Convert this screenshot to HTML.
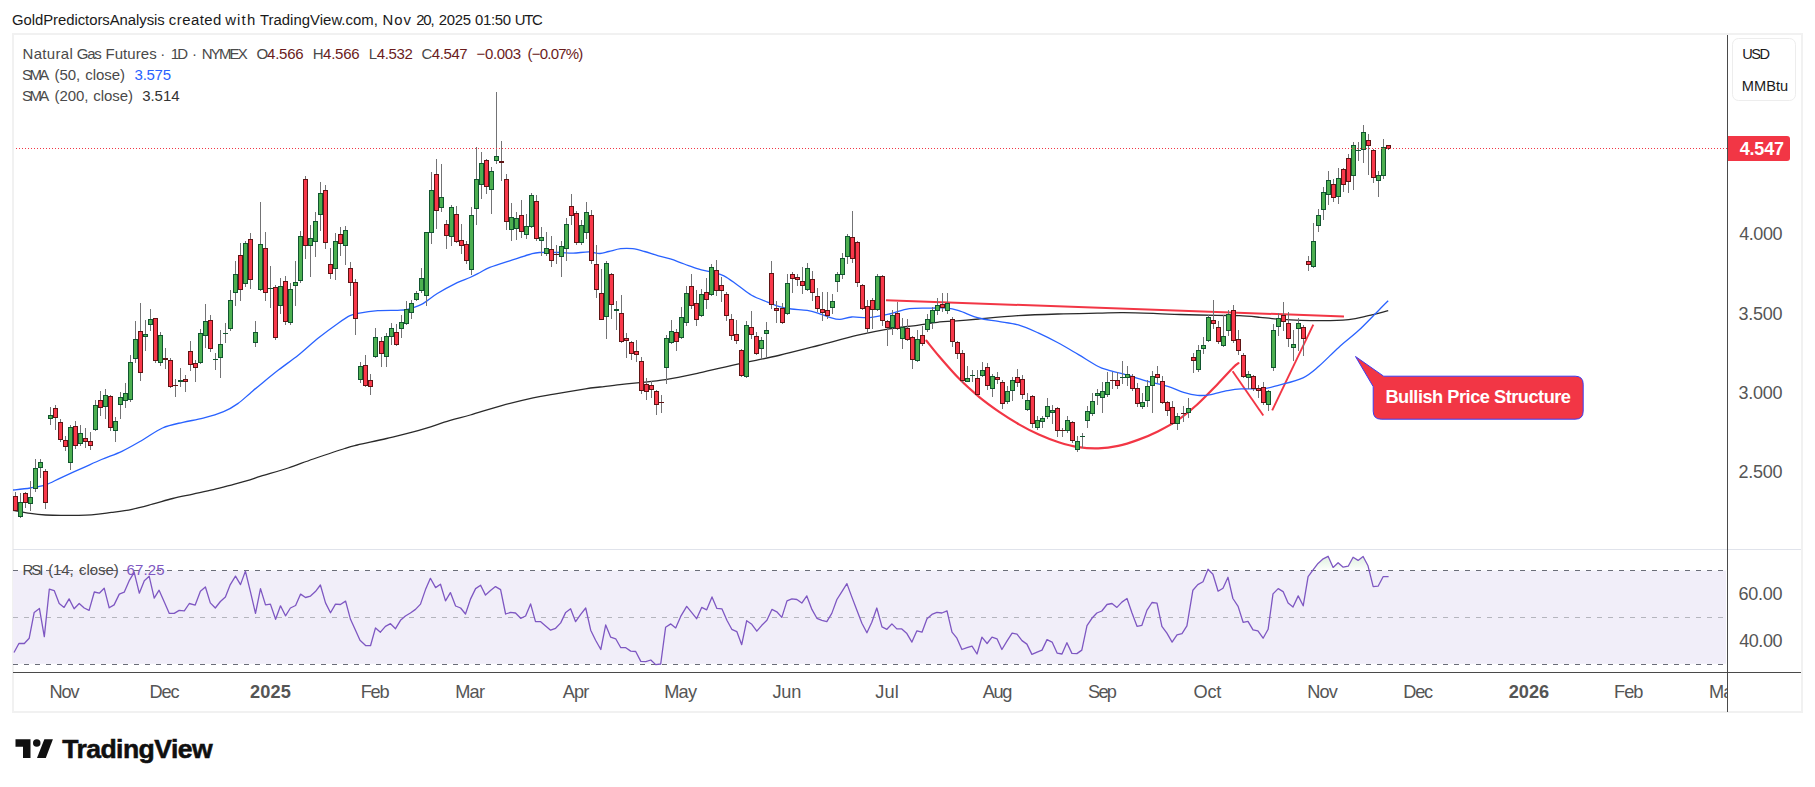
<!DOCTYPE html>
<html><head><meta charset="utf-8"><title>Natural Gas Futures chart</title>
<style>
html,body{margin:0;padding:0;background:#fff}
#root{position:relative;width:1815px;height:787px;overflow:hidden;background:#fff;font-family:"Liberation Sans",sans-serif}
.frame{position:absolute;left:12px;top:33px;width:1787px;height:676px;border:2px solid #f1f1f1}
.unit{position:absolute;left:1731.5px;top:38.3px;width:64.6px;height:62.8px;border:1.3px solid #ededed;border-radius:6.5px;box-sizing:border-box}
.t{position:absolute;white-space:nowrap;line-height:0;display:block;height:0}
.t::before{content:"";display:inline-block;height:0}
.c{transform:translateX(-50%)}
</style></head><body><div id="root">
<div class="frame"></div>
<svg width="1815" height="787" viewBox="0 0 1815 787" style="position:absolute;left:0;top:0">
<rect x="13" y="570.6" width="1713" height="93.2" fill="#f1eef9"/>
<defs><clipPath id="ob"><rect x="1300" y="550" width="100" height="20.5"/></clipPath><linearGradient id="obg" gradientUnits="userSpaceOnUse" x1="0" y1="549" x2="0" y2="571"><stop offset="0" stop-color="#4caf50" stop-opacity="0.28"/><stop offset="1" stop-color="#4caf50" stop-opacity="0.0"/></linearGradient></defs>
<path d="M1303.2,605.8 L1308.1,576.7 L1313.1,569.8 L1318.0,563.4 L1323.2,558.8 L1328.1,556.3 L1333.1,567.4 L1338.1,562.8 L1343.2,567.2 L1348.2,566.2 L1353.1,557.3 L1358.1,560.4 L1363.1,556.5 L1368.0,565.8 L1373.2,586.6 L1378.1,586.2 L1383.1,576.7 L1388.6,576.7 L1388.6,571 L1303.2,571 Z" fill="url(#obg)" clip-path="url(#ob)"/>
<rect x="13" y="549" width="1788" height="1" fill="#e0e3eb"/>
<g shape-rendering="crispEdges">
<line x1="13" y1="570.5" x2="1726" y2="570.5" stroke="#6a6d78" stroke-width="1" stroke-dasharray="5 6" stroke-dashoffset="0"/>
<line x1="13" y1="617.5" x2="1726" y2="617.5" stroke="#b4b5bd" stroke-width="1" stroke-dasharray="5 6" stroke-dashoffset="0"/>
<line x1="13" y1="664.5" x2="1726" y2="664.5" stroke="#6a6d78" stroke-width="1" stroke-dasharray="5 6" stroke-dashoffset="0"/>
</g>
<path d="M14.0,652.5 L18.9,643.5 L24.3,643.5 L29.2,638.2 L34.2,612.4 L39.4,608.4 L44.3,636.6 L49.3,589.2 L54.2,590.6 L59.2,603.5 L64.1,607.4 L69.1,598.9 L74.1,608.8 L79.2,603.5 L84.2,608.0 L89.1,610.4 L94.3,592.0 L99.3,593.2 L104.2,588.2 L109.2,607.8 L114.1,604.9 L119.3,594.1 L124.2,592.2 L129.2,580.7 L134.2,572.3 L139.3,593.2 L144.3,580.7 L149.2,576.3 L154.2,598.1 L159.1,590.2 L164.3,601.9 L169.3,613.4 L174.2,613.4 L179.2,610.4 L184.3,610.8 L189.3,603.5 L195.2,605.1 L200.4,591.2 L205.4,587.0 L210.3,602.9 L215.3,608.0 L220.4,601.5 L225.4,596.9 L230.3,584.6 L235.5,576.1 L240.5,584.6 L245.4,571.1 L250.4,591.6 L255.5,613.4 L260.5,588.6 L265.5,604.9 L270.4,604.1 L275.6,619.3 L280.5,605.8 L285.5,615.8 L290.4,608.0 L295.6,605.5 L300.6,594.1 L305.5,597.5 L310.5,596.1 L315.4,591.6 L320.4,585.0 L325.5,602.9 L330.5,612.8 L335.5,604.1 L340.4,604.5 L345.6,601.1 L350.5,619.3 L355.5,630.2 L360.0,640.2 L365.6,645.5 L370.5,645.7 L375.5,627.9 L380.4,632.2 L385.4,626.3 L390.5,623.7 L395.5,628.7 L400.5,620.3 L405.4,616.0 L410.4,613.0 L415.5,609.4 L420.5,604.1 L425.5,589.6 L430.4,578.3 L435.6,587.6 L440.5,584.2 L445.5,600.9 L450.4,592.6 L455.6,606.0 L460.6,608.0 L465.5,614.0 L470.5,599.1 L475.6,588.6 L480.6,585.2 L485.5,595.1 L490.5,590.6 L495.5,586.6 L500.6,589.6 L505.6,614.0 L510.5,612.4 L515.5,613.0 L520.7,618.3 L525.6,616.0 L530.6,603.9 L535.5,621.7 L540.7,621.7 L545.6,625.9 L550.6,630.2 L555.6,628.3 L560.7,622.9 L565.7,612.4 L570.6,608.8 L575.6,621.7 L580.7,614.4 L585.7,608.0 L590.7,630.2 L595.6,640.2 L600.8,649.5 L605.7,624.9 L610.7,637.2 L615.7,638.8 L620.8,647.7 L625.8,647.7 L630.7,651.1 L635.7,651.5 L640.8,661.4 L645.8,661.6 L650.8,660.0 L655.7,664.6 L660.7,664.0 L665.6,627.3 L670.8,623.9 L675.7,627.9 L680.7,616.4 L686.7,606.4 L691.6,612.4 L696.6,618.7 L701.7,607.4 L706.7,609.8 L712.0,596.9 L716.9,608.4 L721.9,608.8 L726.9,620.3 L731.8,629.3 L736.8,631.6 L741.7,644.7 L746.7,620.7 L751.8,624.3 L756.8,631.2 L761.8,625.3 L766.9,620.3 L771.9,609.4 L776.8,611.8 L781.8,617.4 L787.0,600.9 L791.9,598.9 L796.9,599.5 L801.8,603.1 L806.8,595.9 L811.9,609.4 L816.9,618.3 L821.9,620.3 L826.8,621.7 L831.8,613.4 L836.9,599.5 L841.9,591.6 L846.9,583.6 L851.8,596.9 L857.0,610.4 L861.9,623.3 L866.9,632.8 L871.8,622.3 L876.8,608.0 L882.0,626.9 L886.9,629.3 L891.9,623.9 L896.8,628.9 L901.8,628.9 L906.9,633.6 L911.9,642.1 L916.9,630.8 L922.0,632.2 L927.0,618.7 L931.9,614.4 L936.9,612.4 L941.9,613.0 L947.0,610.8 L952.0,632.2 L956.9,638.2 L961.9,649.5 L967.0,647.7 L972.0,646.1 L977.0,654.0 L981.9,637.2 L987.1,643.5 L992.0,637.2 L997.0,638.8 L1001.9,649.5 L1007.1,640.8 L1012.1,633.2 L1017.0,634.2 L1022.0,640.6 L1026.9,644.1 L1031.9,654.4 L1037.1,652.1 L1042.0,650.1 L1047.0,639.6 L1052.1,642.1 L1057.1,653.1 L1062.0,654.0 L1066.9,642.7 L1071.9,653.4 L1076.9,653.6 L1081.8,650.1 L1087.0,625.7 L1091.9,618.3 L1096.9,613.0 L1101.8,611.0 L1107.0,604.5 L1112.0,603.5 L1116.9,607.4 L1121.9,602.1 L1127.0,598.5 L1132.0,613.0 L1137.0,626.3 L1141.9,625.3 L1146.9,610.4 L1152.0,602.5 L1157.0,603.1 L1161.9,626.3 L1166.9,633.2 L1172.1,642.1 L1177.0,634.8 L1182.0,633.6 L1186.9,625.9 L1192.9,590.2 L1197.8,584.6 L1203.0,581.7 L1208.0,569.2 L1212.9,574.3 L1218.1,591.2 L1223.0,588.2 L1228.0,577.3 L1232.9,598.5 L1238.1,606.4 L1243.1,622.3 L1248.0,621.3 L1253.0,629.8 L1257.9,630.8 L1263.1,638.2 L1268.1,629.3 L1273.0,593.9 L1278.2,588.6 L1283.1,591.6 L1288.1,603.1 L1293.0,607.0 L1298.2,595.9 L1303.2,605.8 L1308.1,576.7 L1313.1,569.8 L1318.0,563.4 L1323.2,558.8 L1328.1,556.3 L1333.1,567.4 L1338.1,562.8 L1343.2,567.2 L1348.2,566.2 L1353.1,557.3 L1358.1,560.4 L1363.1,556.5 L1368.0,565.8 L1373.2,586.6 L1378.1,586.2 L1383.1,576.7 L1388.6,576.7" fill="none" stroke="#7e57c2" stroke-width="1.3" stroke-linejoin="round"/>
<line x1="886" y1="300.2" x2="1344" y2="316.5" stroke="#f23645" stroke-width="2"/>
<path d="M926.4,340.7 C928.6,343.4 934.2,350.6 939.7,357.0 C945.2,363.4 952.9,372.4 959.5,379.1 C966.1,385.8 972.7,391.6 979.3,397.1 C985.9,402.6 992.6,407.3 999.2,411.9 C1005.8,416.4 1012.4,420.6 1019.0,424.4 C1025.6,428.2 1032.2,431.6 1038.8,434.6 C1045.4,437.6 1052.1,440.2 1058.7,442.3 C1065.3,444.4 1071.9,446.2 1078.5,447.2 C1085.1,448.2 1091.7,448.6 1098.3,448.4 C1104.9,448.2 1111.6,447.3 1118.2,445.9 C1124.8,444.5 1131.4,442.3 1138.0,439.9 C1144.6,437.5 1151.2,434.7 1157.8,431.4 C1164.4,428.1 1171.1,424.6 1177.7,420.1 C1184.3,415.6 1190.9,410.1 1197.5,404.2 C1204.1,398.2 1211.3,390.5 1217.3,384.4 C1223.2,378.3 1229.7,371.0 1233.2,367.5 C1236.7,364.0 1237.5,363.9 1238.4,363.2" fill="none" stroke="#f23645" stroke-width="2.2" stroke-linecap="round"/>
<line x1="1232.6" y1="371.2" x2="1263.3" y2="415.5" stroke="#f23645" stroke-width="1.9"/>
<line x1="1272.2" y1="410.3" x2="1313.3" y2="324.6" stroke="#f23645" stroke-width="1.9"/>
<path d="M13.0,510.3 C15.9,510.8 24.9,512.6 30.3,513.4 C35.7,514.2 40.5,514.7 45.6,515.0 C50.7,515.3 53.2,515.4 60.8,515.4 C68.4,515.4 82.9,515.3 91.4,514.8 C99.9,514.3 104.9,513.3 111.7,512.4 C118.5,511.5 125.2,510.7 132.0,509.3 C138.8,507.9 145.6,506.0 152.4,504.2 C159.2,502.4 165.9,500.2 172.7,498.5 C179.5,496.8 186.2,495.6 193.0,494.1 C199.8,492.6 206.6,491.2 213.4,489.6 C220.2,488.0 227.6,485.9 233.7,484.3 C239.8,482.7 245.5,481.2 250.0,479.8 C254.5,478.4 254.5,478.2 260.9,476.2 C267.3,474.2 279.5,470.9 288.2,468.0 C296.9,465.1 303.9,462.2 313.3,459.0 C322.7,455.8 337.4,450.8 344.7,448.5 C352.0,446.2 350.3,446.7 357.3,445.0 C364.3,443.3 376.5,440.9 386.6,438.5 C396.7,436.1 407.5,433.7 418.0,430.7 C428.5,427.7 440.7,423.3 449.4,420.7 C458.1,418.1 461.6,417.5 470.3,415.0 C479.0,412.5 491.2,408.5 501.7,405.6 C512.2,402.7 524.4,399.7 533.1,397.8 C541.8,395.9 545.4,395.6 554.1,394.1 C562.8,392.6 577.9,390.0 585.5,388.8 C593.1,387.6 594.2,387.7 600.0,387.0 C605.8,386.3 613.4,385.3 620.0,384.6 C626.6,383.9 632.1,383.4 639.7,382.6 C647.3,381.8 655.6,381.2 665.5,379.6 C675.4,378.0 687.0,375.5 699.2,372.9 C711.4,370.3 725.6,366.7 738.8,363.8 C752.0,360.9 765.3,358.6 778.5,355.5 C791.7,352.4 805.0,348.9 818.2,345.5 C831.4,342.1 846.2,337.9 857.8,335.2 C869.4,332.5 877.7,330.8 887.6,329.1 C897.5,327.5 909.0,326.4 917.3,325.3 C925.6,324.2 930.1,323.1 937.2,322.3 C944.3,321.5 953.1,321.2 960.0,320.7 C966.9,320.1 969.0,319.9 978.7,319.0 C988.4,318.1 1005.1,316.4 1018.3,315.6 C1031.5,314.8 1044.8,314.4 1058.0,314.0 C1071.2,313.6 1086.8,313.4 1097.7,313.2 C1108.6,313.0 1113.6,312.6 1123.5,312.7 C1133.4,312.8 1147.8,313.3 1157.2,313.6 C1166.6,313.9 1170.0,314.2 1180.0,314.5 C1190.0,314.8 1207.4,315.2 1217.3,315.4 C1227.2,315.6 1232.4,315.4 1239.5,315.7 C1246.6,316.0 1253.4,316.7 1260.0,317.3 C1266.6,317.9 1269.4,318.5 1279.2,319.1 C1289.0,319.7 1307.2,320.6 1318.8,320.7 C1330.4,320.8 1340.3,320.5 1348.6,319.7 C1356.9,318.9 1361.8,317.2 1368.4,315.7 C1375.0,314.2 1384.9,311.5 1388.2,310.7" fill="none" stroke="#2a2a2a" stroke-width="1.3"/>
<path d="M13.0,490.0 C15.9,489.7 24.9,488.9 30.3,488.0 C35.7,487.1 40.5,486.6 45.6,484.9 C50.7,483.2 54.9,480.5 60.8,477.8 C66.7,475.1 74.4,471.7 81.2,468.6 C88.0,465.6 94.7,462.4 101.5,459.5 C108.3,456.6 115.1,454.5 121.9,451.3 C128.7,448.1 135.4,444.1 142.2,440.2 C149.0,436.3 155.7,431.0 162.5,428.0 C169.3,425.0 176.1,423.9 182.9,422.3 C189.7,420.7 196.4,420.0 203.2,418.2 C210.0,416.4 217.8,414.1 223.6,411.7 C229.4,409.3 233.4,406.7 237.8,403.6 C242.2,400.6 246.5,396.3 250.0,393.4 C253.5,390.4 254.0,389.8 258.8,385.9 C263.6,382.0 272.1,374.9 278.7,369.8 C285.3,364.7 291.9,360.3 298.5,355.0 C305.1,349.7 311.7,343.4 318.3,338.1 C324.9,332.8 332.9,326.9 338.2,323.2 C343.5,319.5 346.7,317.3 350.0,315.7 C353.3,314.1 353.4,314.1 358.0,313.3 C362.6,312.5 371.2,311.2 377.8,310.7 C384.4,310.2 392.7,310.5 397.7,310.3 C402.7,310.1 403.6,310.3 407.6,309.3 C411.6,308.3 416.6,307.0 421.5,304.4 C426.4,301.8 431.4,297.1 437.3,293.5 C443.2,289.9 451.8,285.3 457.2,282.6 C462.6,279.9 466.2,279.2 470.0,277.5 C473.8,275.8 476.7,274.2 480.0,272.5 C483.3,270.8 484.9,269.3 489.8,267.4 C494.8,265.4 503.1,262.9 509.7,260.8 C516.3,258.7 524.5,255.9 529.5,254.5 C534.5,253.1 534.4,252.8 539.4,252.5 C544.4,252.2 553.6,252.4 559.2,252.5 C564.8,252.6 568.1,253.2 573.1,253.1 C578.1,253.0 584.5,251.8 589.0,251.9 C593.5,252.0 596.6,253.6 599.9,253.5 C603.2,253.4 605.3,252.3 608.8,251.5 C612.3,250.7 616.7,249.2 620.7,248.7 C624.7,248.2 628.6,248.2 632.6,248.7 C636.6,249.2 640.2,250.3 644.5,251.5 C648.8,252.7 654.1,254.7 658.4,255.9 C662.7,257.1 666.0,257.5 670.3,258.9 C674.6,260.2 679.6,262.4 684.2,264.0 C688.8,265.6 693.5,267.4 698.1,268.8 C702.7,270.2 707.7,271.1 712.0,272.3 C716.3,273.5 719.6,273.8 723.9,275.9 C728.2,278.0 733.1,282.0 737.7,285.2 C742.3,288.4 746.6,292.4 751.6,295.2 C756.6,298.0 762.9,300.2 767.5,302.1 C772.1,304.0 775.4,305.6 779.4,306.7 C783.4,307.8 786.7,308.4 791.3,309.0 C795.9,309.6 802.6,309.6 807.2,310.4 C811.8,311.2 815.3,312.4 819.1,313.6 C822.9,314.8 826.5,316.4 829.9,317.4 C833.3,318.4 836.2,319.5 839.8,319.4 C843.4,319.3 846.7,317.3 851.7,317.0 C856.7,316.7 863.3,318.1 869.6,317.6 C875.9,317.1 882.8,315.5 889.4,314.0 C896.0,312.5 902.3,309.7 909.3,308.7 C916.2,307.7 924.8,308.2 931.1,308.1 C937.4,308.0 942.3,307.7 946.9,308.1 C951.5,308.5 953.5,309.1 958.8,310.7 C964.1,312.3 972.1,316.2 978.7,318.0 C985.3,319.8 991.9,320.2 998.5,321.4 C1005.1,322.5 1011.7,323.0 1018.3,324.9 C1024.9,326.8 1031.6,329.9 1038.2,332.9 C1044.8,335.9 1051.3,339.2 1058.0,342.8 C1064.7,346.4 1071.8,350.7 1078.5,354.6 C1085.2,358.6 1093.3,363.9 1098.3,366.5 C1103.3,369.1 1103.3,368.6 1108.3,370.1 C1113.3,371.6 1121.5,373.5 1128.1,375.4 C1134.7,377.3 1141.3,379.6 1147.9,381.4 C1154.5,383.2 1161.8,384.6 1167.8,386.4 C1173.8,388.2 1178.6,390.8 1183.6,392.3 C1188.5,393.8 1193.2,394.9 1197.5,395.3 C1201.8,395.7 1204.4,395.7 1209.4,394.9 C1214.4,394.1 1222.0,391.7 1227.3,390.7 C1232.6,389.7 1235.1,389.2 1241.1,388.9 C1247.1,388.6 1256.9,389.3 1263.3,388.7 C1269.7,388.1 1272.6,386.9 1279.2,385.1 C1285.8,383.3 1296.4,380.9 1303.0,377.8 C1309.6,374.7 1312.8,371.4 1318.8,366.3 C1324.8,361.2 1332.1,353.3 1338.7,347.4 C1345.3,341.4 1351.9,336.7 1358.5,330.6 C1365.1,324.5 1373.3,315.7 1378.3,310.7 C1383.2,305.7 1386.5,302.4 1388.2,300.8" fill="none" stroke="#2962ff" stroke-width="1.3"/>
<g shape-rendering="crispEdges"><g fill="#737375"><rect x="15" y="492" width="1" height="19"/><rect x="20" y="493" width="1" height="25"/><rect x="25" y="492" width="1" height="16"/><rect x="30" y="481" width="1" height="30"/><rect x="35" y="459" width="1" height="33"/><rect x="40" y="459" width="1" height="19"/><rect x="45" y="469" width="1" height="40"/><rect x="50" y="407" width="1" height="18"/><rect x="55" y="405" width="1" height="25"/><rect x="60" y="419" width="1" height="23"/><rect x="65" y="436" width="1" height="15"/><rect x="70" y="425" width="1" height="45"/><rect x="75" y="421" width="1" height="28"/><rect x="80" y="425" width="1" height="21"/><rect x="85" y="428" width="1" height="20"/><rect x="90" y="432" width="1" height="18"/><rect x="95" y="400" width="1" height="31"/><rect x="100" y="391" width="1" height="25"/><rect x="105" y="389" width="1" height="30"/><rect x="110" y="395" width="1" height="36"/><rect x="115" y="417" width="1" height="25"/><rect x="120" y="392" width="1" height="27"/><rect x="125" y="383" width="1" height="25"/><rect x="130" y="355" width="1" height="47"/><rect x="135" y="321" width="1" height="42"/><rect x="140" y="303" width="1" height="78"/><rect x="145" y="320" width="1" height="31"/><rect x="150" y="309" width="1" height="22"/><rect x="155" y="318" width="1" height="45"/><rect x="160" y="332" width="1" height="34"/><rect x="165" y="348" width="1" height="21"/><rect x="170" y="358" width="1" height="30"/><rect x="175" y="379" width="1" height="18"/><rect x="180" y="368" width="1" height="19"/><rect x="185" y="375" width="1" height="17"/><rect x="190" y="341" width="1" height="30"/><rect x="195" y="360" width="1" height="22"/><rect x="200" y="329" width="1" height="35"/><rect x="205" y="304" width="1" height="44"/><rect x="210" y="315" width="1" height="37"/><rect x="215" y="353" width="1" height="17"/><rect x="220" y="330" width="1" height="48"/><rect x="225" y="323" width="1" height="20"/><rect x="230" y="290" width="1" height="41"/><rect x="235" y="261" width="1" height="45"/><rect x="240" y="243" width="1" height="58"/><rect x="245" y="241" width="1" height="46"/><rect x="250" y="233" width="1" height="56"/><rect x="255" y="321" width="1" height="26"/><rect x="260" y="202" width="1" height="89"/><rect x="265" y="232" width="1" height="69"/><rect x="270" y="266" width="1" height="42"/><rect x="275" y="285" width="1" height="55"/><rect x="280" y="278" width="1" height="36"/><rect x="285" y="276" width="1" height="49"/><rect x="290" y="283" width="1" height="42"/><rect x="295" y="261" width="1" height="45"/><rect x="300" y="231" width="1" height="52"/><rect x="305" y="176" width="1" height="83"/><rect x="310" y="225" width="1" height="52"/><rect x="315" y="212" width="1" height="45"/><rect x="320" y="182" width="1" height="49"/><rect x="325" y="185" width="1" height="64"/><rect x="330" y="248" width="1" height="31"/><rect x="335" y="233" width="1" height="47"/><rect x="340" y="227" width="1" height="29"/><rect x="345" y="226" width="1" height="39"/><rect x="350" y="262" width="1" height="34"/><rect x="355" y="279" width="1" height="56"/><rect x="360" y="362" width="1" height="21"/><rect x="365" y="355" width="1" height="32"/><rect x="370" y="374" width="1" height="21"/><rect x="375" y="328" width="1" height="30"/><rect x="381" y="337" width="1" height="30"/><rect x="386" y="333" width="1" height="34"/><rect x="391" y="323" width="1" height="22"/><rect x="396" y="324" width="1" height="22"/><rect x="401" y="315" width="1" height="23"/><rect x="406" y="301" width="1" height="24"/><rect x="411" y="300" width="1" height="19"/><rect x="416" y="291" width="1" height="10"/><rect x="421" y="268" width="1" height="25"/><rect x="426" y="232" width="1" height="74"/><rect x="431" y="172" width="1" height="72"/><rect x="436" y="159" width="1" height="70"/><rect x="441" y="164" width="1" height="48"/><rect x="446" y="220" width="1" height="29"/><rect x="451" y="205" width="1" height="41"/><rect x="456" y="206" width="1" height="37"/><rect x="461" y="224" width="1" height="30"/><rect x="466" y="241" width="1" height="23"/><rect x="471" y="207" width="1" height="68"/><rect x="476" y="147" width="1" height="78"/><rect x="481" y="152" width="1" height="47"/><rect x="486" y="159" width="1" height="35"/><rect x="491" y="167" width="1" height="47"/><rect x="496" y="92" width="1" height="72"/><rect x="501" y="141" width="1" height="40"/><rect x="506" y="174" width="1" height="56"/><rect x="511" y="203" width="1" height="38"/><rect x="516" y="212" width="1" height="28"/><rect x="521" y="200" width="1" height="38"/><rect x="526" y="214" width="1" height="25"/><rect x="531" y="193" width="1" height="35"/><rect x="536" y="195" width="1" height="46"/><rect x="541" y="227" width="1" height="29"/><rect x="546" y="232" width="1" height="24"/><rect x="551" y="236" width="1" height="31"/><rect x="556" y="245" width="1" height="19"/><rect x="561" y="241" width="1" height="36"/><rect x="566" y="218" width="1" height="43"/><rect x="571" y="194" width="1" height="31"/><rect x="576" y="211" width="1" height="34"/><rect x="581" y="220" width="1" height="25"/><rect x="586" y="202" width="1" height="37"/><rect x="591" y="210" width="1" height="54"/><rect x="596" y="245" width="1" height="53"/><rect x="601" y="269" width="1" height="51"/><rect x="606" y="261" width="1" height="78"/><rect x="611" y="273" width="1" height="46"/><rect x="616" y="301" width="1" height="29"/><rect x="621" y="295" width="1" height="48"/><rect x="626" y="333" width="1" height="25"/><rect x="631" y="341" width="1" height="19"/><rect x="636" y="340" width="1" height="22"/><rect x="641" y="357" width="1" height="37"/><rect x="646" y="378" width="1" height="22"/><rect x="651" y="381" width="1" height="17"/><rect x="656" y="390" width="1" height="25"/><rect x="661" y="395" width="1" height="18"/><rect x="666" y="335" width="1" height="49"/><rect x="671" y="320" width="1" height="24"/><rect x="676" y="329" width="1" height="22"/><rect x="681" y="307" width="1" height="32"/><rect x="686" y="286" width="1" height="40"/><rect x="691" y="274" width="1" height="35"/><rect x="696" y="290" width="1" height="36"/><rect x="701" y="289" width="1" height="28"/><rect x="706" y="278" width="1" height="31"/><rect x="711" y="264" width="1" height="32"/><rect x="716" y="260" width="1" height="36"/><rect x="721" y="277" width="1" height="25"/><rect x="726" y="292" width="1" height="29"/><rect x="731" y="314" width="1" height="26"/><rect x="736" y="320" width="1" height="24"/><rect x="741" y="349" width="1" height="28"/><rect x="746" y="321" width="1" height="57"/><rect x="751" y="311" width="1" height="28"/><rect x="756" y="332" width="1" height="23"/><rect x="761" y="337" width="1" height="22"/><rect x="766" y="322" width="1" height="36"/><rect x="771" y="261" width="1" height="48"/><rect x="776" y="301" width="1" height="22"/><rect x="782" y="303" width="1" height="21"/><rect x="787" y="274" width="1" height="41"/><rect x="792" y="272" width="1" height="21"/><rect x="797" y="274" width="1" height="12"/><rect x="802" y="267" width="1" height="27"/><rect x="807" y="263" width="1" height="28"/><rect x="812" y="271" width="1" height="30"/><rect x="817" y="288" width="1" height="24"/><rect x="822" y="292" width="1" height="29"/><rect x="827" y="292" width="1" height="27"/><rect x="832" y="294" width="1" height="20"/><rect x="837" y="272" width="1" height="20"/><rect x="842" y="253" width="1" height="26"/><rect x="847" y="234" width="1" height="30"/><rect x="852" y="211" width="1" height="52"/><rect x="857" y="241" width="1" height="46"/><rect x="862" y="284" width="1" height="26"/><rect x="867" y="300" width="1" height="34"/><rect x="872" y="298" width="1" height="31"/><rect x="877" y="274" width="1" height="37"/><rect x="882" y="275" width="1" height="51"/><rect x="887" y="320" width="1" height="26"/><rect x="892" y="310" width="1" height="25"/><rect x="897" y="302" width="1" height="28"/><rect x="902" y="318" width="1" height="31"/><rect x="907" y="319" width="1" height="22"/><rect x="912" y="336" width="1" height="33"/><rect x="917" y="330" width="1" height="32"/><rect x="922" y="326" width="1" height="20"/><rect x="927" y="314" width="1" height="18"/><rect x="932" y="307" width="1" height="22"/><rect x="937" y="298" width="1" height="17"/><rect x="942" y="293" width="1" height="19"/><rect x="947" y="293" width="1" height="21"/><rect x="952" y="317" width="1" height="30"/><rect x="957" y="341" width="1" height="18"/><rect x="962" y="350" width="1" height="33"/><rect x="967" y="366" width="1" height="16"/><rect x="972" y="370" width="1" height="12"/><rect x="977" y="370" width="1" height="25"/><rect x="982" y="362" width="1" height="15"/><rect x="987" y="363" width="1" height="27"/><rect x="992" y="374" width="1" height="23"/><rect x="997" y="372" width="1" height="12"/><rect x="1002" y="380" width="1" height="29"/><rect x="1007" y="386" width="1" height="18"/><rect x="1012" y="377" width="1" height="24"/><rect x="1017" y="369" width="1" height="18"/><rect x="1022" y="375" width="1" height="24"/><rect x="1027" y="393" width="1" height="18"/><rect x="1032" y="395" width="1" height="33"/><rect x="1037" y="416" width="1" height="14"/><rect x="1042" y="416" width="1" height="12"/><rect x="1047" y="398" width="1" height="21"/><rect x="1052" y="405" width="1" height="19"/><rect x="1057" y="407" width="1" height="30"/><rect x="1062" y="428" width="1" height="9"/><rect x="1067" y="416" width="1" height="17"/><rect x="1072" y="421" width="1" height="22"/><rect x="1077" y="436" width="1" height="16"/><rect x="1082" y="433" width="1" height="15"/><rect x="1087" y="406" width="1" height="22"/><rect x="1092" y="393" width="1" height="23"/><rect x="1097" y="389" width="1" height="16"/><rect x="1102" y="382" width="1" height="31"/><rect x="1107" y="372" width="1" height="25"/><rect x="1112" y="372" width="1" height="17"/><rect x="1117" y="372" width="1" height="17"/><rect x="1122" y="361" width="1" height="23"/><rect x="1127" y="366" width="1" height="20"/><rect x="1132" y="374" width="1" height="17"/><rect x="1137" y="383" width="1" height="24"/><rect x="1142" y="393" width="1" height="16"/><rect x="1147" y="380" width="1" height="27"/><rect x="1152" y="371" width="1" height="42"/><rect x="1157" y="366" width="1" height="17"/><rect x="1162" y="376" width="1" height="28"/><rect x="1167" y="401" width="1" height="15"/><rect x="1172" y="401" width="1" height="24"/><rect x="1177" y="413" width="1" height="17"/><rect x="1183" y="406" width="1" height="16"/><rect x="1188" y="398" width="1" height="20"/><rect x="1193" y="353" width="1" height="20"/><rect x="1198" y="345" width="1" height="27"/><rect x="1203" y="337" width="1" height="17"/><rect x="1208" y="315" width="1" height="27"/><rect x="1213" y="300" width="1" height="29"/><rect x="1218" y="321" width="1" height="23"/><rect x="1223" y="315" width="1" height="32"/><rect x="1228" y="310" width="1" height="26"/><rect x="1233" y="305" width="1" height="38"/><rect x="1238" y="330" width="1" height="25"/><rect x="1243" y="353" width="1" height="25"/><rect x="1248" y="371" width="1" height="18"/><rect x="1253" y="375" width="1" height="16"/><rect x="1258" y="385" width="1" height="13"/><rect x="1263" y="382" width="1" height="23"/><rect x="1268" y="390" width="1" height="21"/><rect x="1273" y="324" width="1" height="47"/><rect x="1278" y="313" width="1" height="23"/><rect x="1283" y="302" width="1" height="29"/><rect x="1288" y="312" width="1" height="35"/><rect x="1293" y="330" width="1" height="31"/><rect x="1298" y="318" width="1" height="33"/><rect x="1303" y="325" width="1" height="31"/><rect x="1308" y="256" width="1" height="15"/><rect x="1313" y="223" width="1" height="45"/><rect x="1318" y="209" width="1" height="23"/><rect x="1323" y="187" width="1" height="33"/><rect x="1328" y="171" width="1" height="34"/><rect x="1333" y="179" width="1" height="23"/><rect x="1338" y="168" width="1" height="36"/><rect x="1343" y="168" width="1" height="24"/><rect x="1348" y="154" width="1" height="39"/><rect x="1353" y="142" width="1" height="48"/><rect x="1358" y="142" width="1" height="19"/><rect x="1363" y="125" width="1" height="38"/><rect x="1368" y="134" width="1" height="41"/><rect x="1373" y="149" width="1" height="34"/><rect x="1378" y="171" width="1" height="26"/><rect x="1383" y="139" width="1" height="40"/><rect x="1388" y="145" width="1" height="5"/></g><rect x="13" y="496" width="5" height="15" fill="#5e1414"/><rect x="14" y="497" width="3" height="13" fill="#f9384a"/><rect x="18" y="502" width="5" height="15" fill="#11552f"/><rect x="19" y="503" width="3" height="13" fill="#4caf50"/><rect x="23" y="493" width="5" height="10" fill="#5e1414"/><rect x="24" y="494" width="3" height="8" fill="#f9384a"/><rect x="28" y="497" width="5" height="7" fill="#11552f"/><rect x="29" y="498" width="3" height="5" fill="#4caf50"/><rect x="33" y="468" width="5" height="21" fill="#11552f"/><rect x="34" y="469" width="3" height="19" fill="#4caf50"/><rect x="38" y="462" width="5" height="6" fill="#11552f"/><rect x="39" y="463" width="3" height="4" fill="#4caf50"/><rect x="43" y="471" width="5" height="32" fill="#5e1414"/><rect x="44" y="472" width="3" height="30" fill="#f9384a"/><rect x="48" y="415" width="5" height="4" fill="#11552f"/><rect x="49" y="416" width="3" height="2" fill="#4caf50"/><rect x="53" y="408" width="5" height="10" fill="#5e1414"/><rect x="54" y="409" width="3" height="8" fill="#f9384a"/><rect x="58" y="422" width="5" height="18" fill="#5e1414"/><rect x="59" y="423" width="3" height="16" fill="#f9384a"/><rect x="63" y="440" width="5" height="7" fill="#5e1414"/><rect x="64" y="441" width="3" height="5" fill="#f9384a"/><rect x="68" y="427" width="5" height="36" fill="#11552f"/><rect x="69" y="428" width="3" height="34" fill="#4caf50"/><rect x="73" y="426" width="5" height="20" fill="#5e1414"/><rect x="74" y="427" width="3" height="18" fill="#f9384a"/><rect x="78" y="433" width="5" height="11" fill="#11552f"/><rect x="79" y="434" width="3" height="9" fill="#4caf50"/><rect x="83" y="438" width="5" height="4" fill="#5e1414"/><rect x="84" y="439" width="3" height="2" fill="#f9384a"/><rect x="88" y="441" width="5" height="5" fill="#5e1414"/><rect x="89" y="442" width="3" height="3" fill="#f9384a"/><rect x="93" y="405" width="5" height="25" fill="#11552f"/><rect x="94" y="406" width="3" height="23" fill="#4caf50"/><rect x="98" y="400" width="5" height="8" fill="#5e1414"/><rect x="99" y="401" width="3" height="6" fill="#f9384a"/><rect x="103" y="395" width="5" height="12" fill="#11552f"/><rect x="104" y="396" width="3" height="10" fill="#4caf50"/><rect x="108" y="396" width="5" height="32" fill="#5e1414"/><rect x="109" y="397" width="3" height="30" fill="#f9384a"/><rect x="113" y="421" width="5" height="10" fill="#11552f"/><rect x="114" y="422" width="3" height="8" fill="#4caf50"/><rect x="118" y="397" width="5" height="8" fill="#11552f"/><rect x="119" y="398" width="3" height="6" fill="#4caf50"/><rect x="123" y="393" width="5" height="8" fill="#11552f"/><rect x="124" y="394" width="3" height="6" fill="#4caf50"/><rect x="128" y="362" width="5" height="38" fill="#11552f"/><rect x="129" y="363" width="3" height="36" fill="#4caf50"/><rect x="133" y="339" width="5" height="20" fill="#11552f"/><rect x="134" y="340" width="3" height="18" fill="#4caf50"/><rect x="138" y="331" width="5" height="42" fill="#5e1414"/><rect x="139" y="332" width="3" height="40" fill="#f9384a"/><rect x="143" y="334" width="5" height="3" fill="#11552f"/><rect x="144" y="335" width="3" height="1" fill="#4caf50"/><rect x="148" y="319" width="5" height="6" fill="#11552f"/><rect x="149" y="320" width="3" height="4" fill="#4caf50"/><rect x="153" y="318" width="5" height="43" fill="#5e1414"/><rect x="154" y="319" width="3" height="41" fill="#f9384a"/><rect x="158" y="335" width="5" height="28" fill="#11552f"/><rect x="159" y="336" width="3" height="26" fill="#4caf50"/><rect x="163" y="358" width="5" height="2" fill="#5e1414"/><rect x="168" y="360" width="5" height="27" fill="#5e1414"/><rect x="169" y="361" width="3" height="25" fill="#f9384a"/><rect x="173" y="385" width="5" height="1" fill="#5e1414"/><rect x="178" y="380" width="5" height="2" fill="#11552f"/><rect x="183" y="379" width="5" height="3" fill="#5e1414"/><rect x="184" y="380" width="3" height="1" fill="#f9384a"/><rect x="188" y="351" width="5" height="14" fill="#5e1414"/><rect x="189" y="352" width="3" height="12" fill="#f9384a"/><rect x="193" y="363" width="5" height="5" fill="#5e1414"/><rect x="194" y="364" width="3" height="3" fill="#f9384a"/><rect x="198" y="333" width="5" height="30" fill="#11552f"/><rect x="199" y="334" width="3" height="28" fill="#4caf50"/><rect x="203" y="321" width="5" height="15" fill="#11552f"/><rect x="204" y="322" width="3" height="13" fill="#4caf50"/><rect x="208" y="320" width="5" height="29" fill="#5e1414"/><rect x="209" y="321" width="3" height="27" fill="#f9384a"/><rect x="213" y="359" width="5" height="1" fill="#11552f"/><rect x="218" y="344" width="5" height="14" fill="#11552f"/><rect x="219" y="345" width="3" height="12" fill="#4caf50"/><rect x="223" y="333" width="5" height="1" fill="#11552f"/><rect x="228" y="300" width="5" height="29" fill="#11552f"/><rect x="229" y="301" width="3" height="27" fill="#4caf50"/><rect x="233" y="274" width="5" height="19" fill="#11552f"/><rect x="234" y="275" width="3" height="17" fill="#4caf50"/><rect x="238" y="255" width="5" height="35" fill="#5e1414"/><rect x="239" y="256" width="3" height="33" fill="#f9384a"/><rect x="243" y="243" width="5" height="41" fill="#11552f"/><rect x="244" y="244" width="3" height="39" fill="#4caf50"/><rect x="248" y="239" width="5" height="41" fill="#5e1414"/><rect x="249" y="240" width="3" height="39" fill="#f9384a"/><rect x="253" y="332" width="5" height="11" fill="#11552f"/><rect x="254" y="333" width="3" height="9" fill="#4caf50"/><rect x="258" y="244" width="5" height="46" fill="#11552f"/><rect x="259" y="245" width="3" height="44" fill="#4caf50"/><rect x="263" y="248" width="5" height="45" fill="#5e1414"/><rect x="264" y="249" width="3" height="43" fill="#f9384a"/><rect x="268" y="288" width="5" height="1" fill="#11552f"/><rect x="273" y="287" width="5" height="51" fill="#5e1414"/><rect x="274" y="288" width="3" height="49" fill="#f9384a"/><rect x="278" y="286" width="5" height="20" fill="#11552f"/><rect x="279" y="287" width="3" height="18" fill="#4caf50"/><rect x="283" y="281" width="5" height="41" fill="#5e1414"/><rect x="284" y="282" width="3" height="39" fill="#f9384a"/><rect x="288" y="289" width="5" height="34" fill="#11552f"/><rect x="289" y="290" width="3" height="32" fill="#4caf50"/><rect x="293" y="282" width="5" height="4" fill="#11552f"/><rect x="294" y="283" width="3" height="2" fill="#4caf50"/><rect x="298" y="236" width="5" height="45" fill="#11552f"/><rect x="299" y="237" width="3" height="43" fill="#4caf50"/><rect x="303" y="179" width="5" height="67" fill="#5e1414"/><rect x="304" y="180" width="3" height="65" fill="#f9384a"/><rect x="308" y="238" width="5" height="8" fill="#11552f"/><rect x="309" y="239" width="3" height="6" fill="#4caf50"/><rect x="313" y="221" width="5" height="21" fill="#11552f"/><rect x="314" y="222" width="3" height="19" fill="#4caf50"/><rect x="318" y="193" width="5" height="22" fill="#11552f"/><rect x="319" y="194" width="3" height="20" fill="#4caf50"/><rect x="323" y="190" width="5" height="53" fill="#5e1414"/><rect x="324" y="191" width="3" height="51" fill="#f9384a"/><rect x="328" y="264" width="5" height="10" fill="#5e1414"/><rect x="329" y="265" width="3" height="8" fill="#f9384a"/><rect x="333" y="241" width="5" height="28" fill="#11552f"/><rect x="334" y="242" width="3" height="26" fill="#4caf50"/><rect x="338" y="234" width="5" height="10" fill="#5e1414"/><rect x="339" y="235" width="3" height="8" fill="#f9384a"/><rect x="343" y="230" width="5" height="16" fill="#11552f"/><rect x="344" y="231" width="3" height="14" fill="#4caf50"/><rect x="348" y="268" width="5" height="15" fill="#5e1414"/><rect x="349" y="269" width="3" height="13" fill="#f9384a"/><rect x="353" y="282" width="5" height="37" fill="#5e1414"/><rect x="354" y="283" width="3" height="35" fill="#f9384a"/><rect x="358" y="366" width="5" height="14" fill="#11552f"/><rect x="359" y="367" width="3" height="12" fill="#4caf50"/><rect x="363" y="365" width="5" height="21" fill="#5e1414"/><rect x="364" y="366" width="3" height="19" fill="#f9384a"/><rect x="368" y="380" width="5" height="7" fill="#5e1414"/><rect x="369" y="381" width="3" height="5" fill="#f9384a"/><rect x="373" y="337" width="5" height="20" fill="#11552f"/><rect x="374" y="338" width="3" height="18" fill="#4caf50"/><rect x="379" y="341" width="5" height="13" fill="#5e1414"/><rect x="380" y="342" width="3" height="11" fill="#f9384a"/><rect x="384" y="336" width="5" height="21" fill="#11552f"/><rect x="385" y="337" width="3" height="19" fill="#4caf50"/><rect x="389" y="328" width="5" height="9" fill="#11552f"/><rect x="390" y="329" width="3" height="7" fill="#4caf50"/><rect x="394" y="332" width="5" height="13" fill="#5e1414"/><rect x="395" y="333" width="3" height="11" fill="#f9384a"/><rect x="399" y="322" width="5" height="7" fill="#11552f"/><rect x="400" y="323" width="3" height="5" fill="#4caf50"/><rect x="404" y="309" width="5" height="15" fill="#11552f"/><rect x="405" y="310" width="3" height="13" fill="#4caf50"/><rect x="409" y="303" width="5" height="10" fill="#11552f"/><rect x="410" y="304" width="3" height="8" fill="#4caf50"/><rect x="414" y="293" width="5" height="7" fill="#11552f"/><rect x="415" y="294" width="3" height="5" fill="#4caf50"/><rect x="419" y="278" width="5" height="13" fill="#11552f"/><rect x="420" y="279" width="3" height="11" fill="#4caf50"/><rect x="424" y="232" width="5" height="64" fill="#11552f"/><rect x="425" y="233" width="3" height="62" fill="#4caf50"/><rect x="429" y="190" width="5" height="43" fill="#11552f"/><rect x="430" y="191" width="3" height="41" fill="#4caf50"/><rect x="434" y="174" width="5" height="37" fill="#5e1414"/><rect x="435" y="175" width="3" height="35" fill="#f9384a"/><rect x="439" y="197" width="5" height="11" fill="#11552f"/><rect x="440" y="198" width="3" height="9" fill="#4caf50"/><rect x="444" y="224" width="5" height="12" fill="#5e1414"/><rect x="445" y="225" width="3" height="10" fill="#f9384a"/><rect x="449" y="207" width="5" height="30" fill="#11552f"/><rect x="450" y="208" width="3" height="28" fill="#4caf50"/><rect x="454" y="214" width="5" height="28" fill="#5e1414"/><rect x="455" y="215" width="3" height="26" fill="#f9384a"/><rect x="459" y="240" width="5" height="6" fill="#5e1414"/><rect x="460" y="241" width="3" height="4" fill="#f9384a"/><rect x="464" y="244" width="5" height="17" fill="#5e1414"/><rect x="465" y="245" width="3" height="15" fill="#f9384a"/><rect x="469" y="215" width="5" height="55" fill="#11552f"/><rect x="470" y="216" width="3" height="53" fill="#4caf50"/><rect x="474" y="179" width="5" height="30" fill="#11552f"/><rect x="475" y="180" width="3" height="28" fill="#4caf50"/><rect x="479" y="163" width="5" height="22" fill="#11552f"/><rect x="480" y="164" width="3" height="20" fill="#4caf50"/><rect x="484" y="160" width="5" height="27" fill="#5e1414"/><rect x="485" y="161" width="3" height="25" fill="#f9384a"/><rect x="489" y="171" width="5" height="19" fill="#11552f"/><rect x="490" y="172" width="3" height="17" fill="#4caf50"/><rect x="494" y="156" width="5" height="5" fill="#11552f"/><rect x="495" y="157" width="3" height="3" fill="#4caf50"/><rect x="499" y="161" width="5" height="2" fill="#5e1414"/><rect x="504" y="179" width="5" height="43" fill="#5e1414"/><rect x="505" y="180" width="3" height="41" fill="#f9384a"/><rect x="509" y="217" width="5" height="13" fill="#11552f"/><rect x="510" y="218" width="3" height="11" fill="#4caf50"/><rect x="514" y="218" width="5" height="11" fill="#11552f"/><rect x="515" y="219" width="3" height="9" fill="#4caf50"/><rect x="519" y="215" width="5" height="17" fill="#5e1414"/><rect x="520" y="216" width="3" height="15" fill="#f9384a"/><rect x="524" y="226" width="5" height="9" fill="#11552f"/><rect x="525" y="227" width="3" height="7" fill="#4caf50"/><rect x="529" y="195" width="5" height="32" fill="#11552f"/><rect x="530" y="196" width="3" height="30" fill="#4caf50"/><rect x="534" y="201" width="5" height="38" fill="#5e1414"/><rect x="535" y="202" width="3" height="36" fill="#f9384a"/><rect x="539" y="237" width="5" height="4" fill="#11552f"/><rect x="540" y="238" width="3" height="2" fill="#4caf50"/><rect x="544" y="248" width="5" height="6" fill="#11552f"/><rect x="545" y="249" width="3" height="4" fill="#4caf50"/><rect x="549" y="249" width="5" height="12" fill="#5e1414"/><rect x="550" y="250" width="3" height="10" fill="#f9384a"/><rect x="554" y="254" width="5" height="1" fill="#5e1414"/><rect x="559" y="246" width="5" height="11" fill="#11552f"/><rect x="560" y="247" width="3" height="9" fill="#4caf50"/><rect x="564" y="224" width="5" height="25" fill="#11552f"/><rect x="565" y="225" width="3" height="23" fill="#4caf50"/><rect x="569" y="206" width="5" height="10" fill="#5e1414"/><rect x="570" y="207" width="3" height="8" fill="#f9384a"/><rect x="574" y="213" width="5" height="30" fill="#5e1414"/><rect x="575" y="214" width="3" height="28" fill="#f9384a"/><rect x="579" y="225" width="5" height="18" fill="#11552f"/><rect x="580" y="226" width="3" height="16" fill="#4caf50"/><rect x="584" y="212" width="5" height="21" fill="#11552f"/><rect x="585" y="213" width="3" height="19" fill="#4caf50"/><rect x="589" y="215" width="5" height="46" fill="#5e1414"/><rect x="590" y="216" width="3" height="44" fill="#f9384a"/><rect x="594" y="264" width="5" height="26" fill="#5e1414"/><rect x="595" y="265" width="3" height="24" fill="#f9384a"/><rect x="599" y="293" width="5" height="27" fill="#5e1414"/><rect x="600" y="294" width="3" height="25" fill="#f9384a"/><rect x="604" y="263" width="5" height="54" fill="#11552f"/><rect x="605" y="264" width="3" height="52" fill="#4caf50"/><rect x="609" y="274" width="5" height="31" fill="#5e1414"/><rect x="610" y="275" width="3" height="29" fill="#f9384a"/><rect x="614" y="309" width="5" height="2" fill="#11552f"/><rect x="619" y="313" width="5" height="29" fill="#5e1414"/><rect x="620" y="314" width="3" height="27" fill="#f9384a"/><rect x="624" y="338" width="5" height="3" fill="#5e1414"/><rect x="625" y="339" width="3" height="1" fill="#f9384a"/><rect x="629" y="342" width="5" height="12" fill="#5e1414"/><rect x="630" y="343" width="3" height="10" fill="#f9384a"/><rect x="634" y="351" width="5" height="4" fill="#5e1414"/><rect x="635" y="352" width="3" height="2" fill="#f9384a"/><rect x="639" y="361" width="5" height="30" fill="#5e1414"/><rect x="640" y="362" width="3" height="28" fill="#f9384a"/><rect x="644" y="384" width="5" height="8" fill="#5e1414"/><rect x="645" y="385" width="3" height="6" fill="#f9384a"/><rect x="649" y="385" width="5" height="5" fill="#5e1414"/><rect x="650" y="386" width="3" height="3" fill="#f9384a"/><rect x="654" y="391" width="5" height="14" fill="#5e1414"/><rect x="655" y="392" width="3" height="12" fill="#f9384a"/><rect x="659" y="402" width="5" height="1" fill="#5e1414"/><rect x="664" y="338" width="5" height="30" fill="#11552f"/><rect x="665" y="339" width="3" height="28" fill="#4caf50"/><rect x="669" y="331" width="5" height="12" fill="#11552f"/><rect x="670" y="332" width="3" height="10" fill="#4caf50"/><rect x="674" y="332" width="5" height="10" fill="#5e1414"/><rect x="675" y="333" width="3" height="8" fill="#f9384a"/><rect x="679" y="317" width="5" height="21" fill="#11552f"/><rect x="680" y="318" width="3" height="19" fill="#4caf50"/><rect x="684" y="293" width="5" height="30" fill="#11552f"/><rect x="685" y="294" width="3" height="28" fill="#4caf50"/><rect x="689" y="286" width="5" height="20" fill="#5e1414"/><rect x="690" y="287" width="3" height="18" fill="#f9384a"/><rect x="694" y="303" width="5" height="17" fill="#5e1414"/><rect x="695" y="304" width="3" height="15" fill="#f9384a"/><rect x="699" y="294" width="5" height="22" fill="#11552f"/><rect x="700" y="295" width="3" height="20" fill="#4caf50"/><rect x="704" y="292" width="5" height="8" fill="#5e1414"/><rect x="705" y="293" width="3" height="6" fill="#f9384a"/><rect x="709" y="267" width="5" height="28" fill="#11552f"/><rect x="710" y="268" width="3" height="26" fill="#4caf50"/><rect x="714" y="270" width="5" height="21" fill="#5e1414"/><rect x="715" y="271" width="3" height="19" fill="#f9384a"/><rect x="719" y="285" width="5" height="6" fill="#5e1414"/><rect x="720" y="286" width="3" height="4" fill="#f9384a"/><rect x="724" y="294" width="5" height="22" fill="#5e1414"/><rect x="725" y="295" width="3" height="20" fill="#f9384a"/><rect x="729" y="319" width="5" height="17" fill="#5e1414"/><rect x="730" y="320" width="3" height="15" fill="#f9384a"/><rect x="734" y="334" width="5" height="7" fill="#5e1414"/><rect x="735" y="335" width="3" height="5" fill="#f9384a"/><rect x="739" y="350" width="5" height="26" fill="#5e1414"/><rect x="740" y="351" width="3" height="24" fill="#f9384a"/><rect x="744" y="325" width="5" height="52" fill="#11552f"/><rect x="745" y="326" width="3" height="50" fill="#4caf50"/><rect x="749" y="327" width="5" height="8" fill="#5e1414"/><rect x="750" y="328" width="3" height="6" fill="#f9384a"/><rect x="754" y="336" width="5" height="18" fill="#5e1414"/><rect x="755" y="337" width="3" height="16" fill="#f9384a"/><rect x="759" y="340" width="5" height="9" fill="#11552f"/><rect x="760" y="341" width="3" height="7" fill="#4caf50"/><rect x="764" y="330" width="5" height="4" fill="#11552f"/><rect x="765" y="331" width="3" height="2" fill="#4caf50"/><rect x="769" y="273" width="5" height="32" fill="#5e1414"/><rect x="770" y="274" width="3" height="30" fill="#f9384a"/><rect x="774" y="308" width="5" height="3" fill="#5e1414"/><rect x="775" y="309" width="3" height="1" fill="#f9384a"/><rect x="780" y="308" width="5" height="15" fill="#5e1414"/><rect x="781" y="309" width="3" height="13" fill="#f9384a"/><rect x="785" y="283" width="5" height="31" fill="#11552f"/><rect x="786" y="284" width="3" height="29" fill="#4caf50"/><rect x="790" y="274" width="5" height="5" fill="#5e1414"/><rect x="791" y="275" width="3" height="3" fill="#f9384a"/><rect x="795" y="277" width="5" height="3" fill="#5e1414"/><rect x="796" y="278" width="3" height="1" fill="#f9384a"/><rect x="800" y="281" width="5" height="5" fill="#5e1414"/><rect x="801" y="282" width="3" height="3" fill="#f9384a"/><rect x="805" y="268" width="5" height="22" fill="#11552f"/><rect x="806" y="269" width="3" height="20" fill="#4caf50"/><rect x="810" y="279" width="5" height="14" fill="#5e1414"/><rect x="811" y="280" width="3" height="12" fill="#f9384a"/><rect x="815" y="296" width="5" height="13" fill="#5e1414"/><rect x="816" y="297" width="3" height="11" fill="#f9384a"/><rect x="820" y="309" width="5" height="4" fill="#5e1414"/><rect x="821" y="310" width="3" height="2" fill="#f9384a"/><rect x="825" y="310" width="5" height="6" fill="#5e1414"/><rect x="826" y="311" width="3" height="4" fill="#f9384a"/><rect x="830" y="301" width="5" height="7" fill="#11552f"/><rect x="831" y="302" width="3" height="5" fill="#4caf50"/><rect x="835" y="274" width="5" height="8" fill="#11552f"/><rect x="836" y="275" width="3" height="6" fill="#4caf50"/><rect x="840" y="258" width="5" height="17" fill="#11552f"/><rect x="841" y="259" width="3" height="15" fill="#4caf50"/><rect x="845" y="236" width="5" height="21" fill="#11552f"/><rect x="846" y="237" width="3" height="19" fill="#4caf50"/><rect x="850" y="237" width="5" height="22" fill="#5e1414"/><rect x="851" y="238" width="3" height="20" fill="#f9384a"/><rect x="855" y="242" width="5" height="41" fill="#5e1414"/><rect x="856" y="243" width="3" height="39" fill="#f9384a"/><rect x="860" y="285" width="5" height="24" fill="#5e1414"/><rect x="861" y="286" width="3" height="22" fill="#f9384a"/><rect x="865" y="306" width="5" height="23" fill="#5e1414"/><rect x="866" y="307" width="3" height="21" fill="#f9384a"/><rect x="870" y="300" width="5" height="10" fill="#5e1414"/><rect x="871" y="301" width="3" height="8" fill="#f9384a"/><rect x="875" y="276" width="5" height="34" fill="#11552f"/><rect x="876" y="277" width="3" height="32" fill="#4caf50"/><rect x="880" y="276" width="5" height="45" fill="#5e1414"/><rect x="881" y="277" width="3" height="43" fill="#f9384a"/><rect x="885" y="321" width="5" height="7" fill="#5e1414"/><rect x="886" y="322" width="3" height="5" fill="#f9384a"/><rect x="890" y="315" width="5" height="13" fill="#11552f"/><rect x="891" y="316" width="3" height="11" fill="#4caf50"/><rect x="895" y="313" width="5" height="16" fill="#5e1414"/><rect x="896" y="314" width="3" height="14" fill="#f9384a"/><rect x="900" y="327" width="5" height="12" fill="#11552f"/><rect x="901" y="328" width="3" height="10" fill="#4caf50"/><rect x="905" y="328" width="5" height="12" fill="#5e1414"/><rect x="906" y="329" width="3" height="10" fill="#f9384a"/><rect x="910" y="337" width="5" height="23" fill="#5e1414"/><rect x="911" y="338" width="3" height="21" fill="#f9384a"/><rect x="915" y="339" width="5" height="22" fill="#11552f"/><rect x="916" y="340" width="3" height="20" fill="#4caf50"/><rect x="920" y="335" width="5" height="9" fill="#5e1414"/><rect x="921" y="336" width="3" height="7" fill="#f9384a"/><rect x="925" y="319" width="5" height="11" fill="#11552f"/><rect x="926" y="320" width="3" height="9" fill="#4caf50"/><rect x="930" y="310" width="5" height="13" fill="#11552f"/><rect x="931" y="311" width="3" height="11" fill="#4caf50"/><rect x="935" y="305" width="5" height="6" fill="#11552f"/><rect x="936" y="306" width="3" height="4" fill="#4caf50"/><rect x="940" y="304" width="5" height="4" fill="#5e1414"/><rect x="941" y="305" width="3" height="2" fill="#f9384a"/><rect x="945" y="303" width="5" height="8" fill="#11552f"/><rect x="946" y="304" width="3" height="6" fill="#4caf50"/><rect x="950" y="319" width="5" height="23" fill="#5e1414"/><rect x="951" y="320" width="3" height="21" fill="#f9384a"/><rect x="955" y="342" width="5" height="12" fill="#5e1414"/><rect x="956" y="343" width="3" height="10" fill="#f9384a"/><rect x="960" y="353" width="5" height="28" fill="#5e1414"/><rect x="961" y="354" width="3" height="26" fill="#f9384a"/><rect x="965" y="378" width="5" height="4" fill="#11552f"/><rect x="966" y="379" width="3" height="2" fill="#4caf50"/><rect x="970" y="375" width="5" height="1" fill="#11552f"/><rect x="975" y="378" width="5" height="17" fill="#5e1414"/><rect x="976" y="379" width="3" height="15" fill="#f9384a"/><rect x="980" y="370" width="5" height="6" fill="#11552f"/><rect x="981" y="371" width="3" height="4" fill="#4caf50"/><rect x="985" y="367" width="5" height="19" fill="#5e1414"/><rect x="986" y="368" width="3" height="17" fill="#f9384a"/><rect x="990" y="376" width="5" height="13" fill="#11552f"/><rect x="991" y="377" width="3" height="11" fill="#4caf50"/><rect x="995" y="377" width="5" height="3" fill="#5e1414"/><rect x="996" y="378" width="3" height="1" fill="#f9384a"/><rect x="1000" y="382" width="5" height="22" fill="#5e1414"/><rect x="1001" y="383" width="3" height="20" fill="#f9384a"/><rect x="1005" y="391" width="5" height="11" fill="#11552f"/><rect x="1006" y="392" width="3" height="9" fill="#4caf50"/><rect x="1010" y="380" width="5" height="11" fill="#11552f"/><rect x="1011" y="381" width="3" height="9" fill="#4caf50"/><rect x="1015" y="377" width="5" height="6" fill="#5e1414"/><rect x="1016" y="378" width="3" height="4" fill="#f9384a"/><rect x="1020" y="379" width="5" height="16" fill="#5e1414"/><rect x="1021" y="380" width="3" height="14" fill="#f9384a"/><rect x="1025" y="400" width="5" height="10" fill="#11552f"/><rect x="1026" y="401" width="3" height="8" fill="#4caf50"/><rect x="1030" y="396" width="5" height="28" fill="#5e1414"/><rect x="1031" y="397" width="3" height="26" fill="#f9384a"/><rect x="1035" y="420" width="5" height="8" fill="#11552f"/><rect x="1036" y="421" width="3" height="6" fill="#4caf50"/><rect x="1040" y="418" width="5" height="4" fill="#11552f"/><rect x="1041" y="419" width="3" height="2" fill="#4caf50"/><rect x="1045" y="406" width="5" height="11" fill="#11552f"/><rect x="1046" y="407" width="3" height="9" fill="#4caf50"/><rect x="1050" y="410" width="5" height="3" fill="#11552f"/><rect x="1051" y="411" width="3" height="1" fill="#4caf50"/><rect x="1055" y="408" width="5" height="23" fill="#5e1414"/><rect x="1056" y="409" width="3" height="21" fill="#f9384a"/><rect x="1060" y="430" width="5" height="1" fill="#5e1414"/><rect x="1065" y="420" width="5" height="11" fill="#11552f"/><rect x="1066" y="421" width="3" height="9" fill="#4caf50"/><rect x="1070" y="422" width="5" height="19" fill="#5e1414"/><rect x="1071" y="423" width="3" height="17" fill="#f9384a"/><rect x="1075" y="441" width="5" height="9" fill="#11552f"/><rect x="1076" y="442" width="3" height="7" fill="#4caf50"/><rect x="1080" y="436" width="5" height="1" fill="#11552f"/><rect x="1085" y="411" width="5" height="10" fill="#11552f"/><rect x="1086" y="412" width="3" height="8" fill="#4caf50"/><rect x="1090" y="401" width="5" height="13" fill="#11552f"/><rect x="1091" y="402" width="3" height="11" fill="#4caf50"/><rect x="1095" y="393" width="5" height="3" fill="#11552f"/><rect x="1096" y="394" width="3" height="1" fill="#4caf50"/><rect x="1100" y="391" width="5" height="7" fill="#11552f"/><rect x="1101" y="392" width="3" height="5" fill="#4caf50"/><rect x="1105" y="382" width="5" height="13" fill="#11552f"/><rect x="1106" y="383" width="3" height="11" fill="#4caf50"/><rect x="1110" y="380" width="5" height="1" fill="#5e1414"/><rect x="1115" y="380" width="5" height="6" fill="#5e1414"/><rect x="1116" y="381" width="3" height="4" fill="#f9384a"/><rect x="1120" y="377" width="5" height="1" fill="#11552f"/><rect x="1125" y="374" width="5" height="4" fill="#11552f"/><rect x="1126" y="375" width="3" height="2" fill="#4caf50"/><rect x="1130" y="376" width="5" height="13" fill="#5e1414"/><rect x="1131" y="377" width="3" height="11" fill="#f9384a"/><rect x="1135" y="388" width="5" height="16" fill="#5e1414"/><rect x="1136" y="389" width="3" height="14" fill="#f9384a"/><rect x="1140" y="402" width="5" height="5" fill="#11552f"/><rect x="1141" y="403" width="3" height="3" fill="#4caf50"/><rect x="1145" y="386" width="5" height="15" fill="#11552f"/><rect x="1146" y="387" width="3" height="13" fill="#4caf50"/><rect x="1150" y="376" width="5" height="10" fill="#11552f"/><rect x="1151" y="377" width="3" height="8" fill="#4caf50"/><rect x="1155" y="374" width="5" height="4" fill="#5e1414"/><rect x="1156" y="375" width="3" height="2" fill="#f9384a"/><rect x="1160" y="381" width="5" height="22" fill="#5e1414"/><rect x="1161" y="382" width="3" height="20" fill="#f9384a"/><rect x="1165" y="402" width="5" height="9" fill="#5e1414"/><rect x="1166" y="403" width="3" height="7" fill="#f9384a"/><rect x="1170" y="407" width="5" height="17" fill="#5e1414"/><rect x="1171" y="408" width="3" height="15" fill="#f9384a"/><rect x="1175" y="416" width="5" height="8" fill="#11552f"/><rect x="1176" y="417" width="3" height="6" fill="#4caf50"/><rect x="1181" y="413" width="5" height="1" fill="#5e1414"/><rect x="1186" y="408" width="5" height="5" fill="#11552f"/><rect x="1187" y="409" width="3" height="3" fill="#4caf50"/><rect x="1191" y="357" width="5" height="4" fill="#5e1414"/><rect x="1192" y="358" width="3" height="2" fill="#f9384a"/><rect x="1196" y="350" width="5" height="20" fill="#11552f"/><rect x="1197" y="351" width="3" height="18" fill="#4caf50"/><rect x="1201" y="345" width="5" height="4" fill="#11552f"/><rect x="1202" y="346" width="3" height="2" fill="#4caf50"/><rect x="1206" y="317" width="5" height="24" fill="#11552f"/><rect x="1207" y="318" width="3" height="22" fill="#4caf50"/><rect x="1211" y="320" width="5" height="4" fill="#5e1414"/><rect x="1212" y="321" width="3" height="2" fill="#f9384a"/><rect x="1216" y="327" width="5" height="15" fill="#5e1414"/><rect x="1217" y="328" width="3" height="13" fill="#f9384a"/><rect x="1221" y="336" width="5" height="10" fill="#11552f"/><rect x="1222" y="337" width="3" height="8" fill="#4caf50"/><rect x="1226" y="314" width="5" height="17" fill="#11552f"/><rect x="1227" y="315" width="3" height="15" fill="#4caf50"/><rect x="1231" y="310" width="5" height="31" fill="#5e1414"/><rect x="1232" y="311" width="3" height="29" fill="#f9384a"/><rect x="1236" y="339" width="5" height="12" fill="#5e1414"/><rect x="1237" y="340" width="3" height="10" fill="#f9384a"/><rect x="1241" y="355" width="5" height="22" fill="#5e1414"/><rect x="1242" y="356" width="3" height="20" fill="#f9384a"/><rect x="1246" y="374" width="5" height="4" fill="#11552f"/><rect x="1247" y="375" width="3" height="2" fill="#4caf50"/><rect x="1251" y="376" width="5" height="13" fill="#5e1414"/><rect x="1252" y="377" width="3" height="11" fill="#f9384a"/><rect x="1256" y="388" width="5" height="3" fill="#5e1414"/><rect x="1257" y="389" width="3" height="1" fill="#f9384a"/><rect x="1261" y="387" width="5" height="16" fill="#5e1414"/><rect x="1262" y="388" width="3" height="14" fill="#f9384a"/><rect x="1266" y="391" width="5" height="14" fill="#11552f"/><rect x="1267" y="392" width="3" height="12" fill="#4caf50"/><rect x="1271" y="330" width="5" height="38" fill="#11552f"/><rect x="1272" y="331" width="3" height="36" fill="#4caf50"/><rect x="1276" y="318" width="5" height="9" fill="#11552f"/><rect x="1277" y="319" width="3" height="7" fill="#4caf50"/><rect x="1281" y="315" width="5" height="7" fill="#5e1414"/><rect x="1282" y="316" width="3" height="5" fill="#f9384a"/><rect x="1286" y="323" width="5" height="16" fill="#5e1414"/><rect x="1287" y="324" width="3" height="14" fill="#f9384a"/><rect x="1291" y="344" width="5" height="4" fill="#11552f"/><rect x="1292" y="345" width="3" height="2" fill="#4caf50"/><rect x="1296" y="323" width="5" height="6" fill="#11552f"/><rect x="1297" y="324" width="3" height="4" fill="#4caf50"/><rect x="1301" y="327" width="5" height="12" fill="#5e1414"/><rect x="1302" y="328" width="3" height="10" fill="#f9384a"/><rect x="1306" y="261" width="5" height="4" fill="#5e1414"/><rect x="1307" y="262" width="3" height="2" fill="#f9384a"/><rect x="1311" y="241" width="5" height="26" fill="#11552f"/><rect x="1312" y="242" width="3" height="24" fill="#4caf50"/><rect x="1316" y="215" width="5" height="11" fill="#11552f"/><rect x="1317" y="216" width="3" height="9" fill="#4caf50"/><rect x="1321" y="192" width="5" height="18" fill="#11552f"/><rect x="1322" y="193" width="3" height="16" fill="#4caf50"/><rect x="1326" y="180" width="5" height="15" fill="#11552f"/><rect x="1327" y="181" width="3" height="13" fill="#4caf50"/><rect x="1331" y="184" width="5" height="14" fill="#5e1414"/><rect x="1332" y="185" width="3" height="12" fill="#f9384a"/><rect x="1336" y="178" width="5" height="19" fill="#11552f"/><rect x="1337" y="179" width="3" height="17" fill="#4caf50"/><rect x="1341" y="169" width="5" height="16" fill="#5e1414"/><rect x="1342" y="170" width="3" height="14" fill="#f9384a"/><rect x="1346" y="158" width="5" height="24" fill="#5e1414"/><rect x="1347" y="159" width="3" height="22" fill="#f9384a"/><rect x="1351" y="145" width="5" height="31" fill="#11552f"/><rect x="1352" y="146" width="3" height="29" fill="#4caf50"/><rect x="1356" y="150" width="5" height="1" fill="#11552f"/><rect x="1361" y="132" width="5" height="18" fill="#11552f"/><rect x="1362" y="133" width="3" height="16" fill="#4caf50"/><rect x="1366" y="140" width="5" height="6" fill="#5e1414"/><rect x="1367" y="141" width="3" height="4" fill="#f9384a"/><rect x="1371" y="150" width="5" height="28" fill="#5e1414"/><rect x="1372" y="151" width="3" height="26" fill="#f9384a"/><rect x="1376" y="175" width="5" height="6" fill="#11552f"/><rect x="1377" y="176" width="3" height="4" fill="#4caf50"/><rect x="1381" y="147" width="5" height="29" fill="#11552f"/><rect x="1382" y="148" width="3" height="27" fill="#4caf50"/><rect x="1386" y="145" width="5" height="4" fill="#5e1414"/><rect x="1387" y="146" width="3" height="2" fill="#f9384a"/></g>
<line x1="16" y1="148.5" x2="1727" y2="148.5" stroke="#f23645" stroke-width="1" stroke-dasharray="1 2" shape-rendering="crispEdges"/>
<path d="M1355.5,356.5 L1383.7,376.2 L1575.2,376.2 Q1583.2,376.2 1583.2,384.2 L1583.2,411.2 Q1583.2,419.2 1575.2,419.2 L1381.2,419.2 Q1373.2,419.2 1373.2,411.2 L1373.2,386.6 Z" fill="#f23645" stroke="#3a3df0" stroke-width="1"/>
<g shape-rendering="crispEdges" fill="#4a4a4a"><rect x="1727" y="35" width="1" height="677"/><rect x="13" y="672" width="1788" height="1"/></g>
<path d="M1728,136 H1787 Q1790,136 1790,139 V158 Q1790,161 1787,161 H1728 Z" fill="#f23645"/>
<g fill="#101010"><path d="M15.5,739.3 H30.5 V758 H23 V746.8 H15.5 Z"/><circle cx="36.75" cy="743.05" r="3.75"/><path d="M44.35,739.3 H52.9 L45.8,758 H37 Z"/></g>
</svg>
<div class="unit"></div>
<span class="t" style="left:12.00px;top:19.64px;font-size:14.9px;color:#1a1a1a;font-weight:normal;letter-spacing:-0.056px;">GoldPredictorsAnalysis</span><span class="t" style="left:168.75px;top:19.64px;font-size:14.9px;color:#1a1a1a;font-weight:normal;letter-spacing:0.493px;">created</span><span class="t" style="left:225.13px;top:19.64px;font-size:14.9px;color:#1a1a1a;font-weight:normal;letter-spacing:1.197px;">with</span><span class="t" style="left:259.93px;top:19.64px;font-size:14.9px;color:#1a1a1a;font-weight:normal;letter-spacing:0.028px;">TradingView.com,</span><span class="t" style="left:382.38px;top:19.64px;font-size:14.9px;color:#1a1a1a;font-weight:normal;letter-spacing:1.010px;">Nov</span><span class="t" style="left:416.13px;top:19.64px;font-size:14.9px;color:#1a1a1a;font-weight:normal;letter-spacing:-1.135px;">20,</span><span class="t" style="left:438.63px;top:19.64px;font-size:14.9px;color:#1a1a1a;font-weight:normal;letter-spacing:-0.268px;">2025</span><span class="t" style="left:474.89px;top:19.64px;font-size:14.9px;color:#1a1a1a;font-weight:normal;letter-spacing:-0.276px;">01:50</span><span class="t" style="left:514.81px;top:19.64px;font-size:14.9px;color:#1a1a1a;font-weight:normal;letter-spacing:-1.269px;">UTC</span><span class="t" style="left:22.47px;top:53.70px;font-size:15px;color:#4a4a4a;font-weight:normal;letter-spacing:0.344px;">Natural</span><span class="t" style="left:76.70px;top:53.70px;font-size:15px;color:#4a4a4a;font-weight:normal;letter-spacing:-1.224px;">Gas</span><span class="t" style="left:105.47px;top:53.70px;font-size:15px;color:#4a4a4a;font-weight:normal;letter-spacing:0.071px;">Futures</span><span class="t" style="left:160.30px;top:53.70px;font-size:15px;color:#4a4a4a;font-weight:normal;letter-spacing:0.000px;">·</span><span class="t" style="left:170.82px;top:53.70px;font-size:15px;color:#4a4a4a;font-weight:normal;letter-spacing:-1.871px;">1D</span><span class="t" style="left:192.00px;top:53.70px;font-size:15px;color:#4a4a4a;font-weight:normal;letter-spacing:0.000px;">·</span><span class="t" style="left:201.87px;top:53.70px;font-size:15px;color:#4a4a4a;font-weight:normal;letter-spacing:-1.863px;">NYMEX</span><span class="t" style="left:256.53px;top:53.70px;font-size:15px;color:#4a4a4a;font-weight:normal;letter-spacing:0.000px;">O</span><span class="t" style="left:267.02px;top:53.70px;font-size:15px;color:#6b1c1c;font-weight:normal;letter-spacing:-0.214px;">4.566</span><span class="t" style="left:312.67px;top:53.70px;font-size:15px;color:#4a4a4a;font-weight:normal;letter-spacing:0.000px;">H</span><span class="t" style="left:323.12px;top:53.70px;font-size:15px;color:#6b1c1c;font-weight:normal;letter-spacing:-0.264px;">4.566</span><span class="t" style="left:368.77px;top:53.70px;font-size:15px;color:#4a4a4a;font-weight:normal;letter-spacing:0.000px;">L</span><span class="t" style="left:376.72px;top:53.70px;font-size:15px;color:#6b1c1c;font-weight:normal;letter-spacing:-0.358px;">4.532</span><span class="t" style="left:421.50px;top:53.70px;font-size:15px;color:#4a4a4a;font-weight:normal;letter-spacing:0.000px;">C</span><span class="t" style="left:431.82px;top:53.70px;font-size:15px;color:#6b1c1c;font-weight:normal;letter-spacing:-0.408px;">4.547</span><span class="t" style="left:476.47px;top:53.70px;font-size:15px;color:#6b1c1c;font-weight:normal;letter-spacing:-0.333px;">−0.003</span><span class="t" style="left:527.60px;top:53.70px;font-size:15px;color:#6b1c1c;font-weight:normal;letter-spacing:-0.790px;">(−0.07%)</span><span class="t" style="left:22.08px;top:74.50px;font-size:15px;color:#4a4a4a;font-weight:normal;letter-spacing:-2.706px;">SMA</span><span class="t" style="left:54.60px;top:74.50px;font-size:15px;color:#4a4a4a;font-weight:normal;letter-spacing:-0.058px;">(50,</span><span class="t" style="left:85.25px;top:74.50px;font-size:15px;color:#4a4a4a;font-weight:normal;letter-spacing:-0.049px;">close)</span><span class="t" style="left:134.62px;top:74.50px;font-size:15px;color:#2962ff;font-weight:normal;letter-spacing:-0.294px;">3.575</span><span class="t" style="left:22.08px;top:95.50px;font-size:15px;color:#4a4a4a;font-weight:normal;letter-spacing:-2.706px;">SMA</span><span class="t" style="left:54.60px;top:95.50px;font-size:15px;color:#4a4a4a;font-weight:normal;letter-spacing:-0.099px;">(200,</span><span class="t" style="left:93.25px;top:95.50px;font-size:15px;color:#4a4a4a;font-weight:normal;letter-spacing:-0.069px;">close)</span><span class="t" style="left:142.22px;top:95.50px;font-size:15px;color:#333;font-weight:normal;letter-spacing:-0.055px;">3.514</span><span class="t" style="left:22.57px;top:569.60px;font-size:15px;color:#4a4a4a;font-weight:normal;letter-spacing:-2.116px;">RSI</span><span class="t" style="left:48.30px;top:569.60px;font-size:15px;color:#4a4a4a;font-weight:normal;letter-spacing:-0.192px;">(14,</span><span class="t" style="left:78.95px;top:569.60px;font-size:15px;color:#4a4a4a;font-weight:normal;letter-spacing:-0.029px;">close)</span><span class="t" style="left:126.40px;top:569.60px;font-size:15px;color:#7e57c2;font-weight:normal;letter-spacing:0.187px;">67.25</span><span class="t" style="left:1739.19px;top:233.86px;font-size:18px;color:#555;font-weight:normal;letter-spacing:-0.433px;">4.000</span><span class="t" style="left:1738.40px;top:313.66px;font-size:18px;color:#555;font-weight:normal;letter-spacing:-0.235px;">3.500</span><span class="t" style="left:1738.40px;top:392.86px;font-size:18px;color:#555;font-weight:normal;letter-spacing:-0.235px;">3.000</span><span class="t" style="left:1738.40px;top:471.86px;font-size:18px;color:#555;font-weight:normal;letter-spacing:-0.235px;">2.500</span><span class="t" style="left:1738.40px;top:593.86px;font-size:18px;color:#555;font-weight:normal;letter-spacing:-0.235px;">60.00</span><span class="t" style="left:1739.19px;top:640.96px;font-size:18px;color:#555;font-weight:normal;letter-spacing:-0.433px;">40.00</span><span class="t" style="left:1739.66px;top:148.56px;font-size:18px;color:#fff;font-weight:bold;letter-spacing:-0.165px;">4.547</span><span class="t" style="left:1742.23px;top:54.44px;font-size:14.6px;color:#1a1a1a;font-weight:normal;letter-spacing:-1.514px;">USD</span><span class="t" style="left:1741.79px;top:85.64px;font-size:14.6px;color:#1a1a1a;font-weight:normal;letter-spacing:0.028px;">MMBtu</span><span class="t" style="left:49.45px;top:691.69px;font-size:18.2px;color:#555;font-weight:normal;letter-spacing:-1.075px;">Nov</span><span class="t" style="left:149.55px;top:691.69px;font-size:18.2px;color:#555;font-weight:normal;letter-spacing:-1.097px;">Dec</span><span class="t" style="left:250.09px;top:691.69px;font-size:18.2px;color:#555;font-weight:bold;letter-spacing:0.072px;">2025</span><span class="t" style="left:360.65px;top:691.69px;font-size:18.2px;color:#555;font-weight:normal;letter-spacing:-1.210px;">Feb</span><span class="t" style="left:455.15px;top:691.69px;font-size:18.2px;color:#555;font-weight:normal;letter-spacing:-0.721px;">Mar</span><span class="t" style="left:562.77px;top:691.69px;font-size:18.2px;color:#555;font-weight:normal;letter-spacing:-0.831px;">Apr</span><span class="t" style="left:664.25px;top:691.69px;font-size:18.2px;color:#555;font-weight:normal;letter-spacing:-0.776px;">May</span><span class="t" style="left:772.44px;top:691.69px;font-size:18.2px;color:#555;font-weight:normal;letter-spacing:-0.220px;">Jun</span><span class="t" style="left:875.34px;top:691.69px;font-size:18.2px;color:#555;font-weight:normal;letter-spacing:0.080px;">Jul</span><span class="t" style="left:982.77px;top:691.69px;font-size:18.2px;color:#555;font-weight:normal;letter-spacing:-1.437px;">Aug</span><span class="t" style="left:1088.03px;top:691.69px;font-size:18.2px;color:#555;font-weight:normal;letter-spacing:-1.697px;">Sep</span><span class="t" style="left:1193.50px;top:691.69px;font-size:18.2px;color:#555;font-weight:normal;letter-spacing:-0.200px;">Oct</span><span class="t" style="left:1307.15px;top:691.69px;font-size:18.2px;color:#555;font-weight:normal;letter-spacing:-0.825px;">Nov</span><span class="t" style="left:1403.15px;top:691.69px;font-size:18.2px;color:#555;font-weight:normal;letter-spacing:-1.147px;">Dec</span><span class="t" style="left:1508.79px;top:691.69px;font-size:18.2px;color:#555;font-weight:bold;letter-spacing:-0.067px;">2026</span><span class="t" style="left:1614.05px;top:691.69px;font-size:18.2px;color:#555;font-weight:normal;letter-spacing:-0.960px;">Feb</span><div style="position:absolute;left:1700px;top:674px;width:27px;height:36px;overflow:hidden"><span class="t" style="left:8.95px;top:17.69px;font-size:18.2px;color:#555;font-weight:normal;letter-spacing:-0.721px;">Mar</span></div><span class="t" style="left:62.24px;top:748.78px;font-size:26.6px;color:#101010;font-weight:bold;letter-spacing:-0.574px;-webkit-text-stroke:0.55px #101010;">TradingView</span><span class="t" style="left:1385.48px;top:397.29px;font-size:18.2px;color:#fff;font-weight:bold;letter-spacing:-0.480px;">Bullish Price Structure</span>
</div></body></html>
